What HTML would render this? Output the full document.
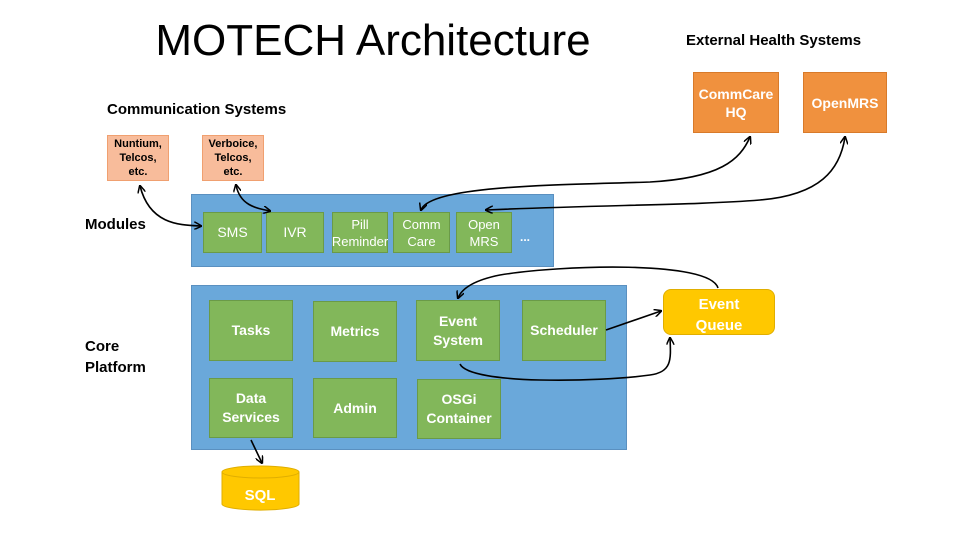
<!DOCTYPE html>
<html><head><meta charset="utf-8"><style>
body{margin:0;width:960px;height:540px;background:#fff;position:relative;overflow:hidden;font-family:"Liberation Sans",sans-serif}
.a{position:absolute}
.t{position:absolute;font-weight:bold;font-size:15px;color:#000}
.g{position:absolute;background:#82b75a;border:1px solid #6a9a48;color:#fff;display:flex;align-items:center;justify-content:center;text-align:center;font-size:13px;line-height:17px;box-sizing:border-box}
.gb{font-weight:bold;font-size:14px;line-height:19px}
.o{position:absolute;background:#f8bc9b;border:1px solid #f0a070;display:flex;align-items:center;justify-content:center;text-align:center;font-size:11px;font-weight:bold;line-height:14px;box-sizing:border-box}
.h{position:absolute;background:#f0913e;border:1px solid #d87a2a;color:#fff;display:flex;align-items:center;justify-content:center;text-align:center;font-size:14px;font-weight:bold;line-height:18px;box-sizing:border-box}
</style></head><body>
<div class="a" style="left:0;top:16px;width:746px;text-align:center;font-size:44px">MOTECH Architecture</div>
<div class="t" style="left:686px;top:32px">External Health Systems</div>
<div class="t" style="left:107px;top:101px">Communication Systems</div>
<div class="t" style="left:85px;top:216px">Modules</div>
<div class="t" style="left:85px;top:336px;line-height:21px">Core<br>Platform</div>
<div class="o" style="left:107px;top:135px;width:62px;height:46px">Nuntium,<br>Telcos,<br>etc.</div>
<div class="o" style="left:202px;top:135px;width:62px;height:46px">Verboice,<br>Telcos,<br>etc.</div>
<div class="h" style="left:693px;top:72px;width:86px;height:61px">CommCare<br>HQ</div>
<div class="h" style="left:803px;top:72px;width:84px;height:61px">OpenMRS</div>
<div class="a" style="left:191px;top:194px;width:363px;height:73px;background:#6aa8da;border:1px solid #5a90c0;box-sizing:border-box"></div>
<div class="g" style="left:203px;top:212px;width:59px;height:41px;font-size:14px">SMS</div>
<div class="g" style="left:266px;top:212px;width:58px;height:41px;font-size:14px">IVR</div>
<div class="g" style="left:332px;top:212px;width:56px;height:41px">Pill<br>Reminder</div>
<div class="g" style="left:393px;top:212px;width:57px;height:41px">Comm<br>Care</div>
<div class="g" style="left:456px;top:212px;width:56px;height:41px">Open<br>MRS</div>
<div class="a" style="left:520px;top:230px;color:#fff;font-size:12px;font-weight:bold">...</div>
<div class="a" style="left:191px;top:285px;width:436px;height:165px;background:#6aa8da;border:1px solid #5a90c0;box-sizing:border-box"></div>
<div class="g gb" style="left:209px;top:300px;width:84px;height:61px">Tasks</div>
<div class="g gb" style="left:313px;top:301px;width:84px;height:61px">Metrics</div>
<div class="g gb" style="left:416px;top:300px;width:84px;height:61px">Event<br>System</div>
<div class="g gb" style="left:522px;top:300px;width:84px;height:61px">Scheduler</div>
<div class="g gb" style="left:209px;top:378px;width:84px;height:60px">Data<br>Services</div>
<div class="g gb" style="left:313px;top:378px;width:84px;height:60px">Admin</div>
<div class="g gb" style="left:417px;top:379px;width:84px;height:60px">OSGi<br>Container</div>
<div class="a" style="left:663px;top:289px;width:112px;height:46px;background:#ffc800;border:1px solid #e0ae00;border-radius:8px;box-sizing:border-box;color:#fff;font-weight:bold;font-size:15px;text-align:center;line-height:21px;padding-top:4px">Event<br>Queue</div>
<svg class="a" style="left:0;top:0" width="960" height="540">
<defs><marker id="m" markerWidth="8" markerHeight="8" refX="7" refY="4" orient="auto-start-reverse" markerUnits="userSpaceOnUse"><path d="M0,0 L8,4 L0,8" fill="none" stroke="#000" stroke-width="1.5"/></marker></defs>
<g fill="none" stroke="#000" stroke-width="1.6">
<path d="M140,186 C150,225 180,225 201,226" marker-start="url(#m)" marker-end="url(#m)"/>
<path d="M236,185 C240,205 255,208 270,211" marker-start="url(#m)" marker-end="url(#m)"/>
<path d="M421,210 C430,185 560,185 650,182 C720,178 740,160 750,137" marker-start="url(#m)" marker-end="url(#m)"/>
<path d="M486,210 C600,205 700,205 760,200 C820,195 840,170 845,137" marker-start="url(#m)" marker-end="url(#m)"/>
<path d="M718,288 C710,260 560,265 500,275 C475,280 462,288 458,298" marker-end="url(#m)"/>
<path d="M606,330 L661,311" marker-end="url(#m)"/>
<path d="M460,364 C470,385 600,382 650,375 C672,372 671,360 670,338" marker-end="url(#m)"/>
<path d="M251,440 L262,463" marker-end="url(#m)"/>
</g>
<g fill="#ffc800" stroke="#e0ae00" stroke-width="1">
<path d="M222,472 L222,504 A38,6 0 0 0 299,504 L299,472"/>
<ellipse cx="260.5" cy="472" rx="38.5" ry="6"/>
</g>
<text x="260" y="500" fill="#fff" font-weight="bold" font-size="15" text-anchor="middle" font-family="Liberation Sans">SQL</text>
</svg>
</body></html>
